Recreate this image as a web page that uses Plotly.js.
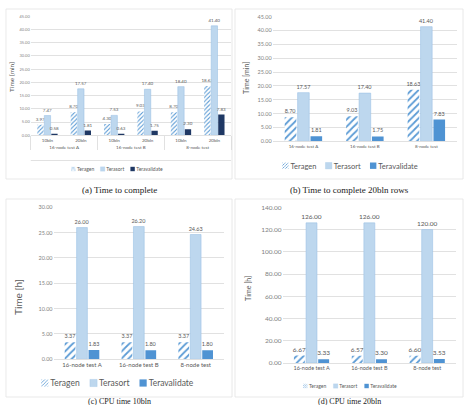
<!DOCTYPE html>
<html><head><meta charset="utf-8">
<script src="https://cdn.plot.ly/plotly-3.0.1.min.js"></script>
<style>html,body{margin:0;padding:0;background:#fff}#gd{width:468px;height:405px}</style>
</head><body><div id="gd"></div>
<script>
// ---- data ----
const groupsA = ["16-node test A","16-node test A","16-node test B","16-node test B","8-node test","8-node test"];
const sizesA = ["10bln","20bln","10bln","20bln","10bln","20bln"];
const teragenA = [3.97, 8.70, 4.30, 9.03, 8.70, 18.63];
const terasortA = [7.47, 17.57, 7.53, 17.40, 18.40, 41.40];
const teravalidateA = [0.58, 1.81, 0.63, 1.75, 2.30, 7.83];

const tests = ["16-node test A","16-node test B","8-node test"];
const teragenB = [8.70, 9.03, 18.63];
const terasortB = [17.57, 17.40, 41.40];
const teravalidateB = [1.81, 1.75, 7.83];

const teragenC = [3.37, 3.37, 3.37];
const terasortC = [26.00, 26.20, 24.63];
const teravalidateC = [1.83, 1.80, 1.80];

const teragenD = [6.67, 6.57, 6.60];
const terasortD = [126.00, 126.00, 120.00];
const teravalidateD = [3.33, 3.30, 3.53];

const seriesNames = ["Teragen","Terasort","Teravalidate"];
const captions = ["(a) Time to complete","(b) Time to complete 20bln rows","(c) CPU time 10bln","(d) CPU time 20bln"];
const yTitles = ["Time [min]","Time [min]","Time [h]","Time [h]"];

// ---- styles ----
const FONT = "Lato, 'Open Sans', sans-serif";
const GREY = "#595959";
const GRID = "#D9D9D9";
const HATCH = "#5B9BD5";
const SORT = "#BDD7EE";
const SORTLINE = "#9DC3E6";
const VAL_DARK = "#1F3864";
const VAL = "#4F93D3";

function mk(name, x, y, xa, ya, legend, kind, fs, valColor, psize){
  const t = {type:'bar', name:name, x:x, y:y, xaxis:xa, yaxis:ya, legend:legend,
    texttemplate:'%{y:.2f}', textposition:'outside', cliponaxis:false, constraintext:'none',
    textfont:{size:fs, color:GREY, family:FONT}, hoverinfo:'skip'};
  if(kind===0){
    t.marker = {color:HATCH, line:{width:0}, pattern:{shape:'/', fgcolor:HATCH, bgcolor:'#ffffff', size:psize, solidity:0.35}};
  } else if(kind===1){
    t.marker = {color:SORT, line:{color:SORTLINE, width:0.6}};
  } else {
    t.marker = {color:valColor, line:{width:0}};
  }
  return t;
}
const xA = [groupsA, sizesA];
const data = [
  mk(seriesNames[0], xA, teragenA, 'x','y','legend',0,4.5,null,3),
  mk(seriesNames[1], xA, terasortA, 'x','y','legend',1,4.5),
  mk(seriesNames[2], xA, teravalidateA, 'x','y','legend',2,4.5,VAL_DARK),
  mk(seriesNames[0], tests, teragenB, 'x2','y2','legend2',0,5.5,null,5),
  mk(seriesNames[1], tests, terasortB, 'x2','y2','legend2',1,5.5),
  mk(seriesNames[2], tests, teravalidateB, 'x2','y2','legend2',2,5.5,VAL),
  mk(seriesNames[0], tests, teragenC, 'x3','y3','legend3',0,5.5,null,5),
  mk(seriesNames[1], tests, terasortC, 'x3','y3','legend3',1,5.5),
  mk(seriesNames[2], tests, teravalidateC, 'x3','y3','legend3',2,5.5,VAL),
  mk(seriesNames[0], tests, teragenD, 'x4','y4','legend4',0,6.5,null,5),
  mk(seriesNames[1], tests, terasortD, 'x4','y4','legend4',1,6.5),
  mk(seriesNames[2], tests, teravalidateD, 'x4','y4','legend4',2,6.5,VAL)
];

const W = 468, H = 405;
const px = v => v / W, py = v => 1 - v / H;

function yax(dom, range, dtick, fs, anchor){
  return {domain:dom, anchor:anchor, range:range, dtick:dtick, tickformat:'.2f',
    tickfont:{size:fs, color:'#7F7F7F', family:FONT}, gridcolor:GRID, gridwidth:0.8,
    zeroline:false, showline:false, ticks:'', fixedrange:true};
}
function xax(dom, fs, anchor, multi){
  const a = {domain:dom, anchor:anchor, tickfont:{size:fs, color:GREY, family:FONT},
    showline:true, linecolor:GRID, linewidth:0.8, showgrid:false, ticks:'', fixedrange:true};
  if(multi){ a.type='multicategory'; a.showdividers=true; a.dividercolor=GRID; a.dividerwidth=0.8; }
  return a;
}
function leg(cx, cy, fs){
  return {orientation:'h', x:px(cx), y:py(cy), xanchor:'center', yanchor:'middle',
    bgcolor:'rgba(0,0,0,0)', font:{size:fs, color:GREY, family:FONT}, itemclick:false};
}
function box(x0,y0,x1,y1){
  return {type:'rect', xref:'paper', yref:'paper', x0:px(x0), x1:px(x1), y0:py(y1), y1:py(y0),
    line:{color:'#E3E3E3', width:0.8}, fillcolor:'rgba(0,0,0,0)', layer:'below'};
}
function hline(x0,x1,y){
  return {type:'line', xref:'paper', yref:'paper', x0:px(x0), x1:px(x1), y0:py(y), y1:py(y),
    line:{color:GRID, width:0.8}};
}
function ytitle(text, cx, cy, fs){
  return {text:text, xref:'paper', yref:'paper', x:px(cx), y:py(cy), textangle:-90,
    showarrow:false, xanchor:'center', yanchor:'middle', font:{size:fs, color:GREY, family:FONT}};
}
function cap(text, cx, cy, fs){
  return {text:text, xref:'paper', yref:'paper', x:px(cx), y:py(cy), showarrow:false,
    xanchor:'center', yanchor:'middle', font:{size:fs, color:'#222', family:"'Liberation Serif', 'DejaVu Serif', serif"}};
}

const layout = {
  width:W, height:H, margin:{l:0,r:0,t:0,b:0}, paper_bgcolor:'#fff', plot_bgcolor:'rgba(0,0,0,0)',
  barmode:'group', bargap:0.37, bargroupgap:0.1, font:{family:FONT, color:GREY},
  xaxis: xax([px(27), px(229)], 4.5, 'y', true),
  yaxis: yax([py(135.3), py(16.3)], [0,45], 5, 4, 'x'),
  xaxis2: xax([px(271), px(457)], 4.5, 'y2', false),
  yaxis2: yax([py(141.3), py(16.7)], [0,45], 5, 5.5, 'x2'),
  xaxis3: xax([px(50), px(222)], 6, 'y3', false),
  yaxis3: yax([py(359.3), py(207.3)], [0,30], 5, 5.5, 'x3'),
  xaxis4: xax([px(281), px(456)], 5.5, 'y4', false),
  yaxis4: yax([py(363), py(207.3)], [0,140], 20, 6.5, 'x4'),
  legend: leg(117, 169, 5),
  legend2: leg(350, 165.7, 7.5),
  legend3: leg(117.5, 383, 8.5),
  legend4: leg(350, 386, 5),
  shapes:[box(2,9,230,179), box(233,9,463,179), box(2,199,230,397), box(233,199,463,397),
          hline(27,229,160.5)],
  annotations:[
    ytitle(yTitles[0], 8, 77, 6.5), ytitle(yTitles[1], 244, 78, 7),
    ytitle(yTitles[2], 14, 297, 10), ytitle(yTitles[3], 246, 288, 7),
    cap(captions[0], 116, 190, 9), cap(captions[1], 348, 190, 9),
    cap(captions[2], 116, 401.5, 8), cap(captions[3], 348, 401.5, 8)
  ]
};

// compact legend layout (Excel-like small swatches)
const legCfg = {legend:{cx:117, s:2.2, g1:1.5, g2:6}, legend2:{cx:350, s:3.2, g1:2, g2:9},
                legend3:{cx:117.5, s:3.6, g1:2, g2:10}, legend4:{cx:350, s:2.2, g1:1.5, g2:7}};
const TR = /translate\(\s*([-\d.e]+)[\s,]*([-\d.e]+)?\s*\)/;
function compactOne(gd, id){
  const c = legCfg[id];
  const lg = gd.querySelector('g.infolayer > g.' + id) || gd.querySelector('g.' + id);
  if(!lg) return;
  const items = Array.from(lg.querySelectorAll('g.traces')).filter(it=>it.querySelector('text'));
  if(!items.length) return;
  let cursor = 0;
  items.forEach(it=>{
    const m = TR.exec(it.getAttribute('transform')||'');
    const ty = m && m[2] ? parseFloat(m[2]) : 0;
    it.querySelectorAll('g.layers, g.legendsymbols, g.legendpoints').forEach(g=>g.removeAttribute('transform'));
    it.querySelectorAll('g.legendpoints path').forEach(p=>p.setAttribute('transform', 'translate(' + c.s + ',0) scale(' + (c.s/6) + ')'));
    const txt = it.querySelector('text');
    const tx = 2*c.s + c.g1;
    txt.setAttribute('x', tx);
    txt.querySelectorAll('tspan').forEach(ts=>{ if(ts.hasAttribute('x')) ts.setAttribute('x', tx); });
    let w = 0;
    try { w = txt.getBBox().width; } catch(e) { w = txt.textContent.length * 3; }
    it.setAttribute('transform', 'translate(' + cursor + ',' + ty + ')');
    cursor += tx + w + c.g2;
  });
  cursor -= c.g2;
  const m2 = TR.exec(lg.getAttribute('transform')||'');
  const ly = m2 && m2[2] ? parseFloat(m2[2]) : 0;
  lg.setAttribute('transform', 'translate(' + (c.cx - cursor/2) + ',' + ly + ')');
  const sb = lg.querySelector('g.scrollbox');
  if(sb) sb.removeAttribute('clip-path');
}
function compact(gd){
  Object.keys(legCfg).forEach(id=>{ try { compactOne(gd, id); } catch(e) {} });
}
const gd = document.getElementById('gd');
Plotly.newPlot(gd, data, layout, {staticPlot:true, displayModeBar:false}).then(()=>compact(gd));
</script></body></html>
